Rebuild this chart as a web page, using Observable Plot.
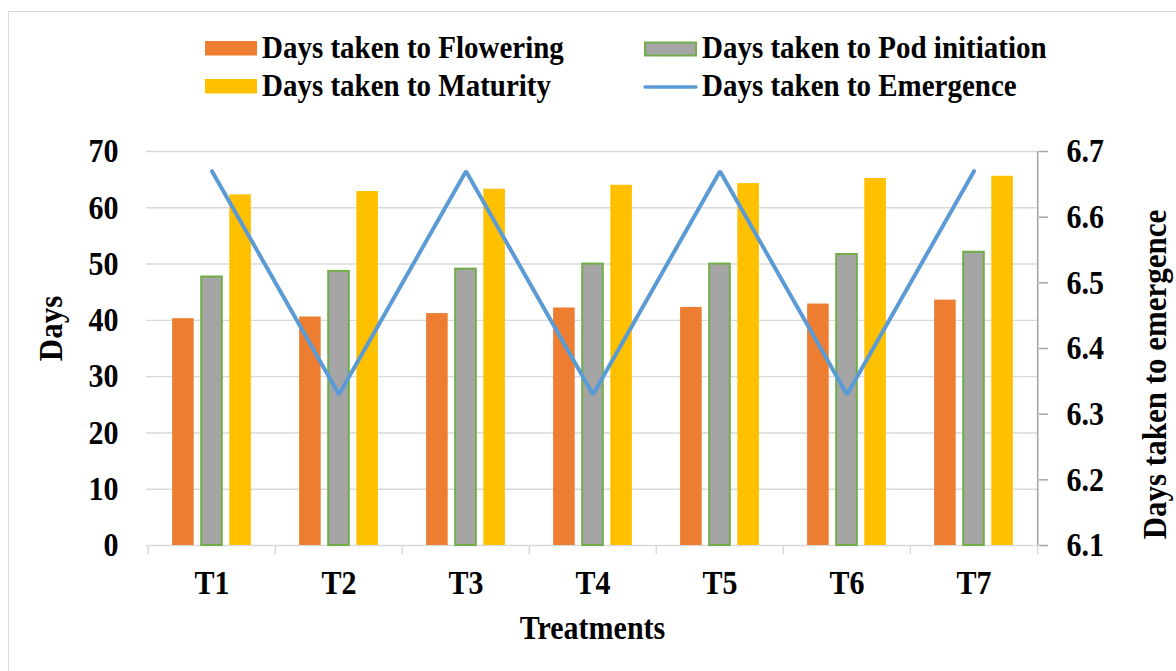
<!DOCTYPE html>
<html>
<head>
<meta charset="utf-8">
<script src="https://cdn.jsdelivr.net/npm/d3@7"></script>
<script src="https://cdn.jsdelivr.net/npm/@observablehq/plot@0.6"></script>
<style>
  html, body { margin: 0; padding: 0; background: #fff; overflow: hidden; }
  #wrap { position: relative; width: 1176px; height: 671px; }
  #border { position: absolute; left: 8px; top: 11px; width: 1200px; height: 700px; border: 1.5px solid #d9d9d9; box-sizing: border-box; pointer-events: none; }
  #legend { display: block; }
  #chart svg { display: block; }
</style>
</head>
<body>
<div id="wrap">
  <div id="border"></div>
  <div id="legend"></div>
  <div id="chart"></div>
</div>
<script>
// ---- data ----
const treatments = ["T1", "T2", "T3", "T4", "T5", "T6", "T7"];
const flowering = [40.3, 40.6, 41.2, 42.2, 42.3, 42.9, 43.6];
const podInitiation = [47.7, 48.7, 49.1, 50.0, 50.0, 51.7, 52.1];
const maturity = [62.3, 62.9, 63.3, 64.0, 64.3, 65.2, 65.6];
const emergence = [6.67, 6.33, 6.67, 6.33, 6.67, 6.33, 6.67];
const leftTicks = [0, 10, 20, 30, 40, 50, 60, 70];
const rightTicks = [6.1, 6.2, 6.3, 6.4, 6.5, 6.6, 6.7];
const legendLabels = ["Days taken to Flowering", "Days taken to Pod initiation", "Days taken to Maturity", "Days taken to Emergence"];

const rows = treatments.map((t, i) => ({t, flowering: flowering[i], pod: podInitiation[i], maturity: maturity[i], emergence: emergence[i]}));

// secondary axis mapping (6.1–6.7 onto 0–70)
const rMin = 6.1, rMax = 6.7, lMax = 70;
const toLeft = v => (v - rMin) / (rMax - rMin) * lMax;
const fromLeft = d => rMin + d / lMax * (rMax - rMin);

const FONT = "'Liberation Serif', 'Times New Roman', serif";
const STRETCH = 1.12;

// ---- legend (SVG above the chart) ----
const colors = {flowering: "#ED7D31", pod: "#A5A5A5", podStroke: "#70AD47", maturity: "#FFC000", emergence: "#5B9BD5"};
const ns = "http://www.w3.org/2000/svg";
const leg = document.createElementNS(ns, "svg");
leg.setAttribute("width", 1176); leg.setAttribute("height", 110);
leg.style.display = "block";
function addText(x, y, s) {
  const t = document.createElementNS(ns, "text");
  t.setAttribute("transform", `translate(${x},${y}) scale(1,${STRETCH})`);
  t.setAttribute("font-family", FONT); t.setAttribute("font-weight", "bold");
  t.setAttribute("font-size", 29); t.textContent = s; leg.appendChild(t);
}
function addRect(x, y, w, h, fill, stroke) {
  const r = document.createElementNS(ns, "rect");
  r.setAttribute("x", x); r.setAttribute("y", y); r.setAttribute("width", w); r.setAttribute("height", h);
  r.setAttribute("fill", fill);
  if (stroke) { r.setAttribute("stroke", stroke); r.setAttribute("stroke-width", 2); }
  leg.appendChild(r);
}
addRect(205, 41, 52, 14.5, colors.flowering);
addText(262, 58, legendLabels[0]);
addRect(645, 42.5, 51, 13, colors.pod, colors.podStroke);
addText(702, 58, legendLabels[1]);
addRect(205, 79, 52, 14.5, colors.maturity);
addText(262, 96, legendLabels[2]);
const ln = document.createElementNS(ns, "line");
ln.setAttribute("x1", 645); ln.setAttribute("x2", 696); ln.setAttribute("y1", 87); ln.setAttribute("y2", 87);
ln.setAttribute("stroke", colors.emergence); ln.setAttribute("stroke-width", 3.5); ln.setAttribute("stroke-linecap", "round");
leg.appendChild(ln);
addText(702, 96, legendLabels[3]);
document.getElementById("legend").appendChild(leg);

// ---- chart ----
const W = 1176, H = 560, mT = 41, mB = 125, mL = 146, mR = 138;
const bw = (W - mL - mR) / treatments.length;
const frameH = H - mT - mB;
const barW = 22, podW = 21, step = 28.6;
const fl = bw / 2 - step - barW / 2;

const chart = Plot.plot({
  width: W, height: H,
  marginTop: mT, marginBottom: mB, marginLeft: mL, marginRight: mR,
  style: {fontFamily: FONT, fontWeight: "bold", fontSize: "30px", color: "#000", background: "transparent", overflow: "visible"},
  x: {type: "band", domain: treatments, paddingInner: 0, paddingOuter: 0, label: null},
  y: {domain: [0, 70], label: null},
  marks: [
    Plot.ruleY(leftTicks.filter(d => d > 0), {stroke: "#d9d9d9", strokeWidth: 1.4}),
    Plot.ruleY([0], {stroke: "#d9d9d9", strokeWidth: 1.6}),
    Plot.ruleX(treatments, {x: d => d, dx: -bw / 2, insetTop: frameH, insetBottom: -9, stroke: "#d9d9d9", strokeWidth: 1.5}),
    Plot.ruleX(["T7"], {x: d => d, dx: bw / 2, insetTop: frameH, insetBottom: -9, stroke: "#d9d9d9", strokeWidth: 1.5}),
    Plot.barY(rows, {x: "t", y: "flowering", fill: colors.flowering, insetLeft: fl, insetRight: bw - fl - barW}),
    Plot.barY(rows, {x: "t", y: "pod", fill: colors.pod, stroke: colors.podStroke, strokeWidth: 2, insetLeft: (bw - podW) / 2, insetRight: (bw - podW) / 2}),
    Plot.barY(rows, {x: "t", y: "maturity", fill: colors.maturity, insetLeft: bw - fl - barW, insetRight: fl}),
    Plot.line(rows, {x: "t", y: d => toLeft(d.emergence), stroke: colors.emergence, strokeWidth: 4, strokeLinejoin: "miter", strokeLinecap: "round"}),
    Plot.ruleX(["T7"], {x: d => d, dx: bw / 2, stroke: "#a6a6a6", strokeWidth: 1.6}),
    Plot.axisY(leftTicks, {anchor: "left", tickSize: 0, tickPadding: 28, label: null, fontSize: 30}),
    Plot.axisY(rightTicks.map(toLeft), {anchor: "right", tickSize: 9, tickFormat: () => "", stroke: "#a6a6a6", strokeWidth: 1.5, label: null}),
    Plot.axisY(rightTicks.map(toLeft), {anchor: "right", tickSize: 0, tickPadding: 28, tickFormat: d => fromLeft(d).toFixed(1), label: null, fontSize: 30}),
    Plot.axisX({tickSize: 0, tickPadding: 25, label: null, fontSize: 30}),
    Plot.text(["Treatments"], {frameAnchor: "bottom", textAnchor: "middle", lineAnchor: "bottom", dy: 93, fontSize: 30, fill: "#000"}),
    Plot.text(["Days"], {frameAnchor: "left", textAnchor: "middle", lineAnchor: "bottom", rotate: -90, dx: -85, dy: -20, fontSize: 31, fill: "#000"}),
    Plot.text(["Days taken to emergence"], {frameAnchor: "right", textAnchor: "middle", lineAnchor: "bottom", rotate: -90, dx: 127, dy: 26, fontSize: 31, fill: "#000"})
  ]
});

// slight vertical stretch of glyphs to match the reference's tall type
chart.querySelectorAll("text").forEach(t => {
  const tr = t.getAttribute("transform");
  if (tr && tr.trim().startsWith("translate")) t.setAttribute("transform", tr + ` scale(1,${STRETCH})`);
});
document.getElementById("chart").appendChild(chart);
</script>
</body>
</html>
